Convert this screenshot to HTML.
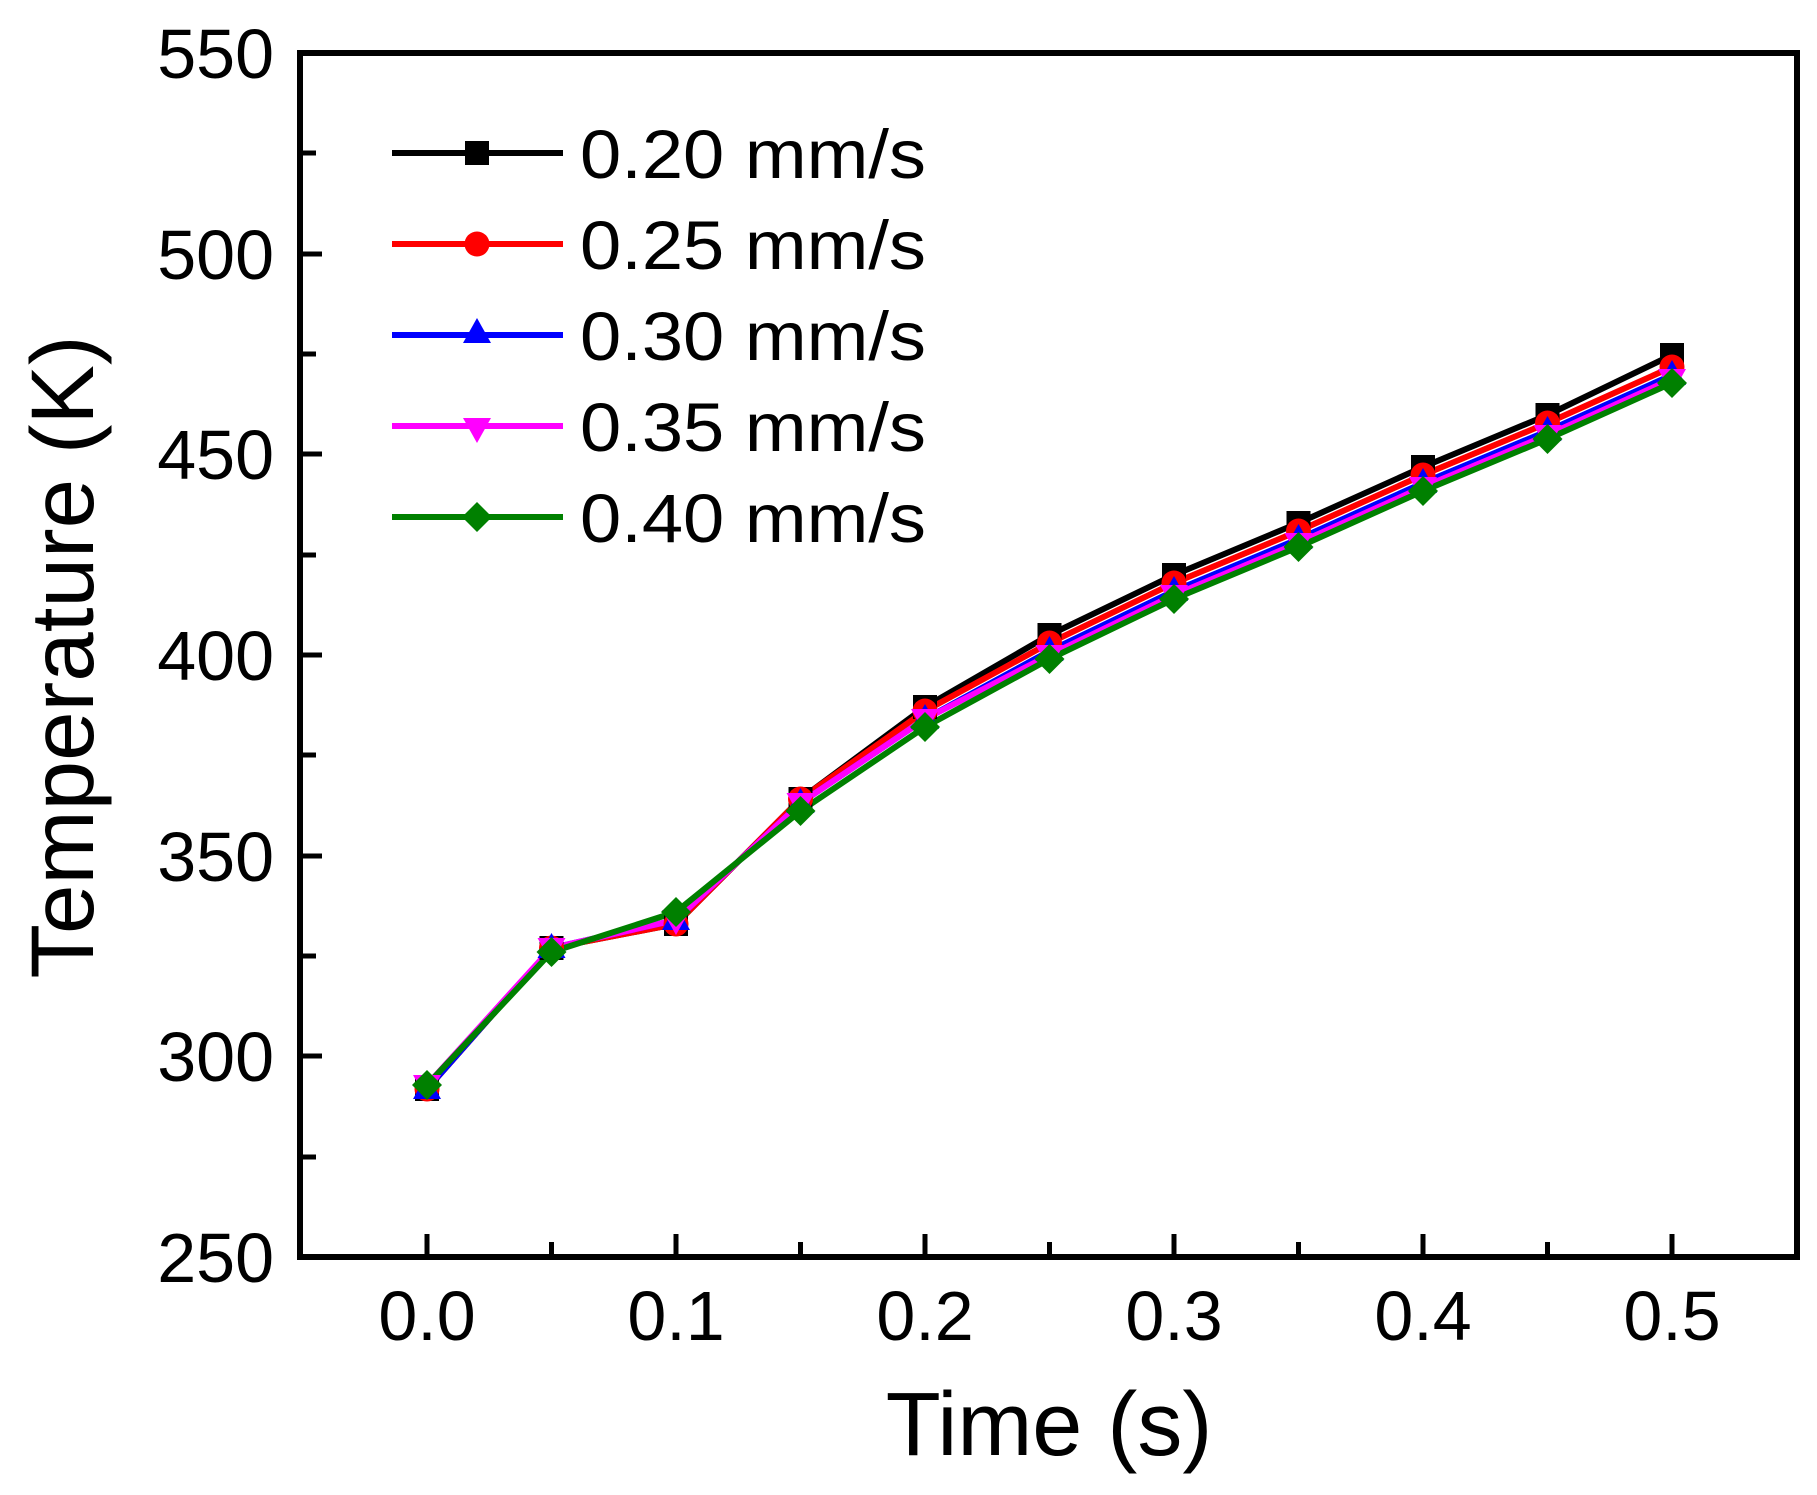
<!DOCTYPE html>
<html><head><meta charset="utf-8"><style>
html,body{margin:0;padding:0;background:#fff;}
svg{display:block;}
text{font-family:"Liberation Sans",Arial,sans-serif;fill:#000;}
</style></head><body>
<svg width="1817" height="1495" viewBox="0 0 1817 1495" xmlns="http://www.w3.org/2000/svg">
<defs>
<g id="sq"><rect x="-12" y="-12" width="24" height="24"/></g>
<g id="ci"><circle r="12.5"/></g>
<g id="tu"><polygon points="0,-15 14,10 -14,10"/></g>
<g id="td"><polygon points="0,15 14,-10 -14,-10"/></g>
<g id="di"><polygon points="0,-15 15,0 0,15 -15,0"/></g>
</defs>
<rect x="300" y="53" width="1497" height="1204" fill="none" stroke="#000" stroke-width="6"/>
<g stroke="#000" stroke-width="5">
<line x1="300" y1="153" x2="316" y2="153"/>
<line x1="300" y1="254" x2="322" y2="254"/>
<line x1="300" y1="354" x2="316" y2="354"/>
<line x1="300" y1="454" x2="322" y2="454"/>
<line x1="300" y1="555" x2="316" y2="555"/>
<line x1="300" y1="655" x2="322" y2="655"/>
<line x1="300" y1="755" x2="316" y2="755"/>
<line x1="300" y1="856" x2="322" y2="856"/>
<line x1="300" y1="956" x2="316" y2="956"/>
<line x1="300" y1="1056" x2="322" y2="1056"/>
<line x1="300" y1="1157" x2="316" y2="1157"/>
<line x1="427" y1="1257" x2="427" y2="1234"/>
<line x1="551.5" y1="1257" x2="551.5" y2="1242"/>
<line x1="676" y1="1257" x2="676" y2="1234"/>
<line x1="800.5" y1="1257" x2="800.5" y2="1242"/>
<line x1="925" y1="1257" x2="925" y2="1234"/>
<line x1="1049.5" y1="1257" x2="1049.5" y2="1242"/>
<line x1="1174" y1="1257" x2="1174" y2="1234"/>
<line x1="1298.5" y1="1257" x2="1298.5" y2="1242"/>
<line x1="1423" y1="1257" x2="1423" y2="1234"/>
<line x1="1547.5" y1="1257" x2="1547.5" y2="1242"/>
<line x1="1672" y1="1257" x2="1672" y2="1234"/>
</g>
<g font-size="70" text-anchor="end">
<text x="274" y="78">550</text>
<text x="274" y="279">500</text>
<text x="274" y="479">450</text>
<text x="274" y="680">400</text>
<text x="274" y="881">350</text>
<text x="274" y="1081">300</text>
<text x="274" y="1282">250</text>
</g>
<g font-size="70" text-anchor="middle">
<text x="427" y="1340">0.0</text>
<text x="676" y="1340">0.1</text>
<text x="925" y="1340">0.2</text>
<text x="1174" y="1340">0.3</text>
<text x="1423" y="1340">0.4</text>
<text x="1672" y="1340">0.5</text>
</g>
<text x="1049" y="1455" font-size="90" text-anchor="middle">Time (s)</text>
<text transform="translate(93,657) rotate(-90)" font-size="89" text-anchor="middle">Temperature (K)</text>

<g fill="none" stroke-width="6" stroke-linejoin="round">
<polyline stroke="#000" points="427,1089 551.5,948 676,924 800.5,799 925,707 1049.5,635 1174,575 1298.5,523 1423,467 1547.5,415 1672,355"/>
<polyline stroke="#ff0000" points="427,1089 551.5,948 676,924 800.5,799 925,711 1049.5,643 1174,583 1298.5,531 1423,475 1547.5,423 1672,367"/>
<polyline stroke="#0000ff" points="427,1089 551.5,948 676,920 800.5,803 925,719 1049.5,651 1174,591 1298.5,539 1423,483 1547.5,431 1672,375"/>
<polyline stroke="#ff00ff" points="427,1085 551.5,948 676,920 800.5,803 925,719 1049.5,655 1174,595 1298.5,543 1423,487 1547.5,435 1672,379"/>
<polyline stroke="#008000" points="427,1085 551.5,952 676,912 800.5,811 925,727 1049.5,659 1174,599 1298.5,547 1423,491 1547.5,439 1672,383"/>
</g>
<g fill="#000">
<use href="#sq" x="427" y="1089"/><use href="#sq" x="551.5" y="948"/><use href="#sq" x="676" y="924"/><use href="#sq" x="800.5" y="799"/><use href="#sq" x="925" y="707"/><use href="#sq" x="1049.5" y="635"/><use href="#sq" x="1174" y="575"/><use href="#sq" x="1298.5" y="523"/><use href="#sq" x="1423" y="467"/><use href="#sq" x="1547.5" y="415"/><use href="#sq" x="1672" y="355"/>
</g>
<g fill="#ff0000">
<use href="#ci" x="427" y="1089"/><use href="#ci" x="551.5" y="948"/><use href="#ci" x="676" y="924"/><use href="#ci" x="800.5" y="799"/><use href="#ci" x="925" y="711"/><use href="#ci" x="1049.5" y="643"/><use href="#ci" x="1174" y="583"/><use href="#ci" x="1298.5" y="531"/><use href="#ci" x="1423" y="475"/><use href="#ci" x="1547.5" y="423"/><use href="#ci" x="1672" y="367"/>
</g>
<g fill="#0000ff">
<use href="#tu" x="427" y="1089"/><use href="#tu" x="551.5" y="948"/><use href="#tu" x="676" y="920"/><use href="#tu" x="800.5" y="803"/><use href="#tu" x="925" y="719"/><use href="#tu" x="1049.5" y="651"/><use href="#tu" x="1174" y="591"/><use href="#tu" x="1298.5" y="539"/><use href="#tu" x="1423" y="483"/><use href="#tu" x="1547.5" y="431"/><use href="#tu" x="1672" y="375"/>
</g>
<g fill="#ff00ff">
<use href="#td" x="427" y="1085"/><use href="#td" x="551.5" y="948"/><use href="#td" x="676" y="920"/><use href="#td" x="800.5" y="803"/><use href="#td" x="925" y="719"/><use href="#td" x="1049.5" y="655"/><use href="#td" x="1174" y="595"/><use href="#td" x="1298.5" y="543"/><use href="#td" x="1423" y="487"/><use href="#td" x="1547.5" y="435"/><use href="#td" x="1672" y="379"/>
</g>
<g fill="#008000">
<use href="#di" x="427" y="1085"/><use href="#di" x="551.5" y="952"/><use href="#di" x="676" y="912"/><use href="#di" x="800.5" y="811"/><use href="#di" x="925" y="727"/><use href="#di" x="1049.5" y="659"/><use href="#di" x="1174" y="599"/><use href="#di" x="1298.5" y="547"/><use href="#di" x="1423" y="491"/><use href="#di" x="1547.5" y="439"/><use href="#di" x="1672" y="383"/>
</g>

<g stroke-width="6">
<line x1="392" y1="153" x2="563" y2="153" stroke="#000"/>
<line x1="392" y1="244" x2="563" y2="244" stroke="#ff0000"/>
<line x1="392" y1="335" x2="563" y2="335" stroke="#0000ff"/>
<line x1="392" y1="426" x2="563" y2="426" stroke="#ff00ff"/>
<line x1="392" y1="517" x2="563" y2="517" stroke="#008000"/>
</g>
<use href="#sq" x="477" y="153" fill="#000"/>
<use href="#ci" x="477" y="244" fill="#ff0000"/>
<use href="#tu" x="477" y="333" fill="#0000ff"/>
<use href="#td" x="477" y="428" fill="#ff00ff"/>
<use href="#di" x="477" y="517" fill="#008000"/>
<g font-size="69">
<text x="580" y="178" textLength="346" lengthAdjust="spacingAndGlyphs">0.20 mm/s</text>
<text x="580" y="269" textLength="346" lengthAdjust="spacingAndGlyphs">0.25 mm/s</text>
<text x="580" y="360" textLength="346" lengthAdjust="spacingAndGlyphs">0.30 mm/s</text>
<text x="580" y="451" textLength="346" lengthAdjust="spacingAndGlyphs">0.35 mm/s</text>
<text x="580" y="542" textLength="346" lengthAdjust="spacingAndGlyphs">0.40 mm/s</text>
</g>
</svg>
</body></html>
